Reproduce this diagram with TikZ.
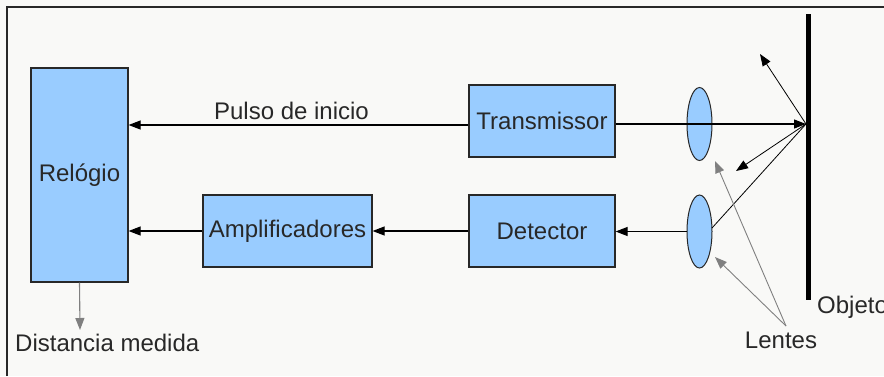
\documentclass[tikz,border=0pt]{standalone}
\usepackage{fontspec}
\setmainfont{Liberation Sans}
\usetikzlibrary{arrows.meta}
\definecolor{boxblue}{RGB}{153,204,255}
\definecolor{ink}{RGB}{40,40,40}
\definecolor{paper}{RGB}{249,249,247}
\definecolor{pointer}{RGB}{128,128,128}
\begin{document}
\begin{tikzpicture}[x=1pt,y=-1pt,
  every node/.style={font=\fontsize{24}{28}\selectfont, text=ink, inner sep=0pt},
  block/.style={draw=ink, line width=1.2pt, fill=boxblue},
  head/.style={-{Triangle[length=12pt,width=9pt]}},
  sig/.style={draw=black, line width=1.1pt, head},
  ray/.style={draw=black, line width=0.8pt},
  pointer arrow/.style={draw=pointer, line width=1pt, head}
]
\useasboundingbox (0,0) rectangle (884,376);
\fill[paper] (0,0) rectangle (884,376);
% frame edges
\draw[ink, line width=1.5pt] (7,376) -- (7,7) -- (884,7);

% blocks
\node[block, minimum width=97pt, minimum height=214pt] (clock) at (79.5,175) {};
\node at (clock.center) {Relógio};
\node[block, minimum width=146pt, minimum height=72pt] (tx) at (542,121) {};
\node at (tx.center) {Transmissor};
\node[block, minimum width=146pt, minimum height=72pt] (det) at (542,231) {};
\node at (det.center) {Detector};
\node[block, minimum width=169pt, minimum height=72pt] (amp) at (287.5,231) {};
\node at (amp.center) {Amplificadores};

% lenses
\fill[boxblue, draw=ink, line width=1pt] (699.5,124) ellipse (12.5pt and 36.5pt);
\coordinate (lensA) at (699.5,124);
\fill[boxblue, draw=ink, line width=1pt] (699.5,231.5) ellipse (12.5pt and 36.5pt);
\coordinate (lensB) at (699.5,231.5);
\coordinate (lensBleft) at (687,231.5);
\coordinate (lensBright) at (712,228);

% target object
\coordinate (objtop) at (808.5,14);
\coordinate (objbot) at (808.5,300);
\draw[black, line width=5pt] (objtop) -- (objbot);
\coordinate (hit) at (806,124);
\node[anchor=west] (objlbl) at (817,307) {Objeto};

% signal paths
\draw[sig] (tx.west |- 0,125) -- (clock.east |- 0,125);
\node (pulse) at (291.5,111) {Pulso de inicio};
\draw[sig] (tx.east |- 0,124) -- (hit);
\draw[sig] (amp.west) -- (clock.east |- amp.west);
\draw[sig] (det.west) -- (amp.east);
\draw[sig] (lensBleft) -- (det.east |- lensBleft);

% reflected rays
\coordinate (rayup) at (760,54);
\coordinate (rayback) at (736,171);
\draw[ray, head] (hit) -- (rayup);
\draw[ray, head] (hit) -- (rayback);
\draw[ray] (hit) -- (lensBright);

% labels with pointers
\node (lentes) at (781,340) {Lentes};
\coordinate (lentesapex) at (786,326);
\coordinate (ptA) at (715,161);
\coordinate (ptB) at (715,257);
\draw[pointer arrow, line width=0.9pt] (lentesapex) -- (ptA);
\draw[pointer arrow, line width=0.9pt] (lentesapex) -- (ptB);

\node[anchor=west] (dist) at (15,343) {Distancia medida};
\draw[pointer arrow, line width=1.1pt] (clock.south) -- (80,330);
\end{tikzpicture}
\end{document}
